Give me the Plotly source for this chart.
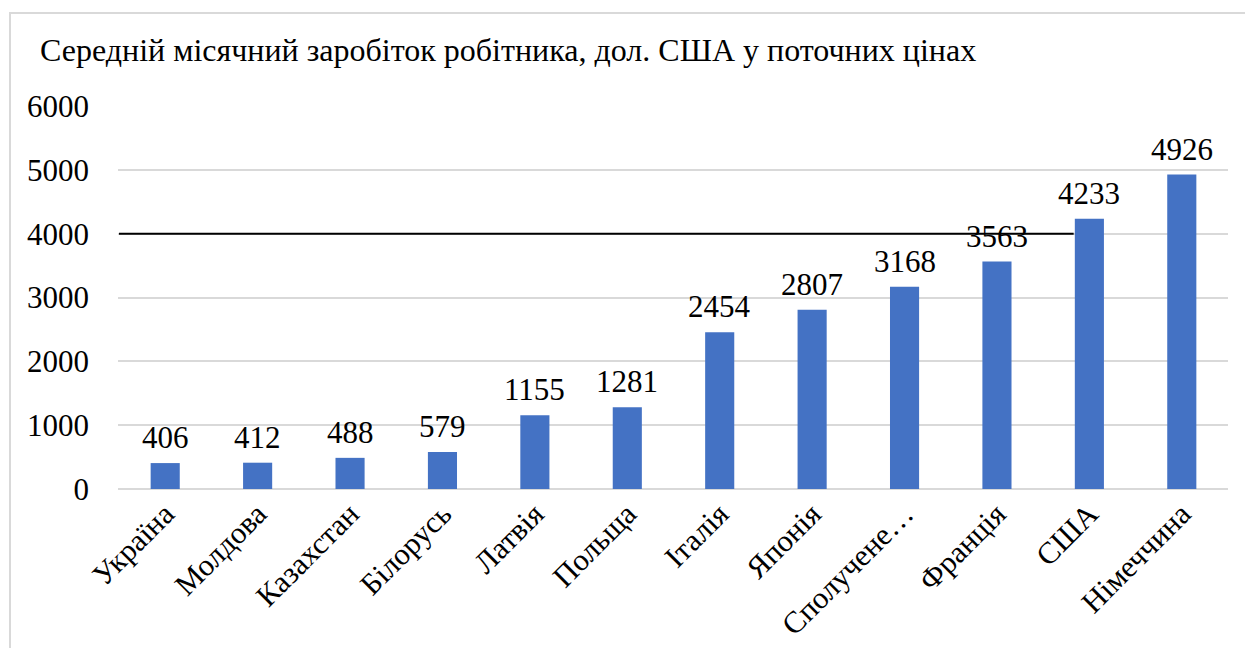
import plotly.graph_objects as go

categories = ["Україна", "Молдова", "Казахстан", "Білорусь", "Латвія", "Польща",
              "Італія", "Японія", "Сполучене…", "Франція", "США", "Німеччина"]
values = [406, 412, 488, 579, 1155, 1281, 2454, 2807, 3168, 3563, 4233, 4926]
y_ticks = [0, 1000, 2000, 3000, 4000, 5000, 6000]
title_text = "Середній місячний заробіток робітника, дол. США у поточних цінах"
line_level = 4000

FONT = "Liberation Serif, Times New Roman, serif"

fig = go.Figure(go.Bar(
    x=categories, y=values,
    marker=dict(color="#4472C4", line=dict(width=0)),
    cliponaxis=False,
))

W, H = 1245, 648
L, R, T, B = 118, 17, 106, 159
pw, ph = W - L - R, H - T - B

label_annotations = [
    dict(x=c, y=v, xref="x", yref="y", text=str(v), showarrow=False,
         xanchor="center", yanchor="bottom", yshift=6,
         font=dict(family=FONT, size=31, color="#000000"))
    for c, v in zip(categories, values)
]

fig.update_layout(
    width=W, height=H,
    margin=dict(l=L, r=R, t=T, b=B, pad=0),
    paper_bgcolor="white", plot_bgcolor="white",
    bargap=0.685,
    showlegend=False,
    font=dict(family=FONT, color="#000000"),
    xaxis=dict(tickangle=-45, tickfont=dict(family=FONT, size=30.5, color="#000000"),
               showgrid=False, showline=False, ticks="", automargin=False,
               ticklabelstandoff=0),
    yaxis=dict(range=[0, 6000], tickvals=y_ticks, ticktext=[str(t) for t in y_ticks],
               tickfont=dict(family=FONT, size=31, color="#000000"),
               gridcolor="#D9D9D9", gridwidth=1.5, zeroline=True, zerolinecolor="#D9D9D9",
               zerolinewidth=1.5, showline=False, ticks="", ticklabelstandoff=28, automargin=False),
    annotations=[dict(text=title_text, xref="paper", yref="paper",
                      x=(38 - L) / pw, y=(H - B - 50) / ph, xanchor="left", yanchor="middle",
                      showarrow=False, font=dict(family=FONT, size=32, color="#000000"))]
                + label_annotations,
    shapes=[
        dict(type="line", xref="x", yref="y", x0=-0.5, x1=9.83, y0=line_level, y1=line_level,
             line=dict(color="#000000", width=2), layer="above"),
        dict(type="rect", xref="paper", yref="paper",
             x0=(10 - L) / pw, x1=(W + 20 - L) / pw,
             y0=(H - B - (H + 20)) / ph, y1=(H - B - 13) / ph,
             line=dict(color="#D9D9D9", width=2), fillcolor="rgba(0,0,0,0)", layer="below"),
    ],
)

fig.write_html("out.html", config={"displayModeBar": False},
               post_script="document.body.style.margin='0';document.body.style.overflow='hidden';")
